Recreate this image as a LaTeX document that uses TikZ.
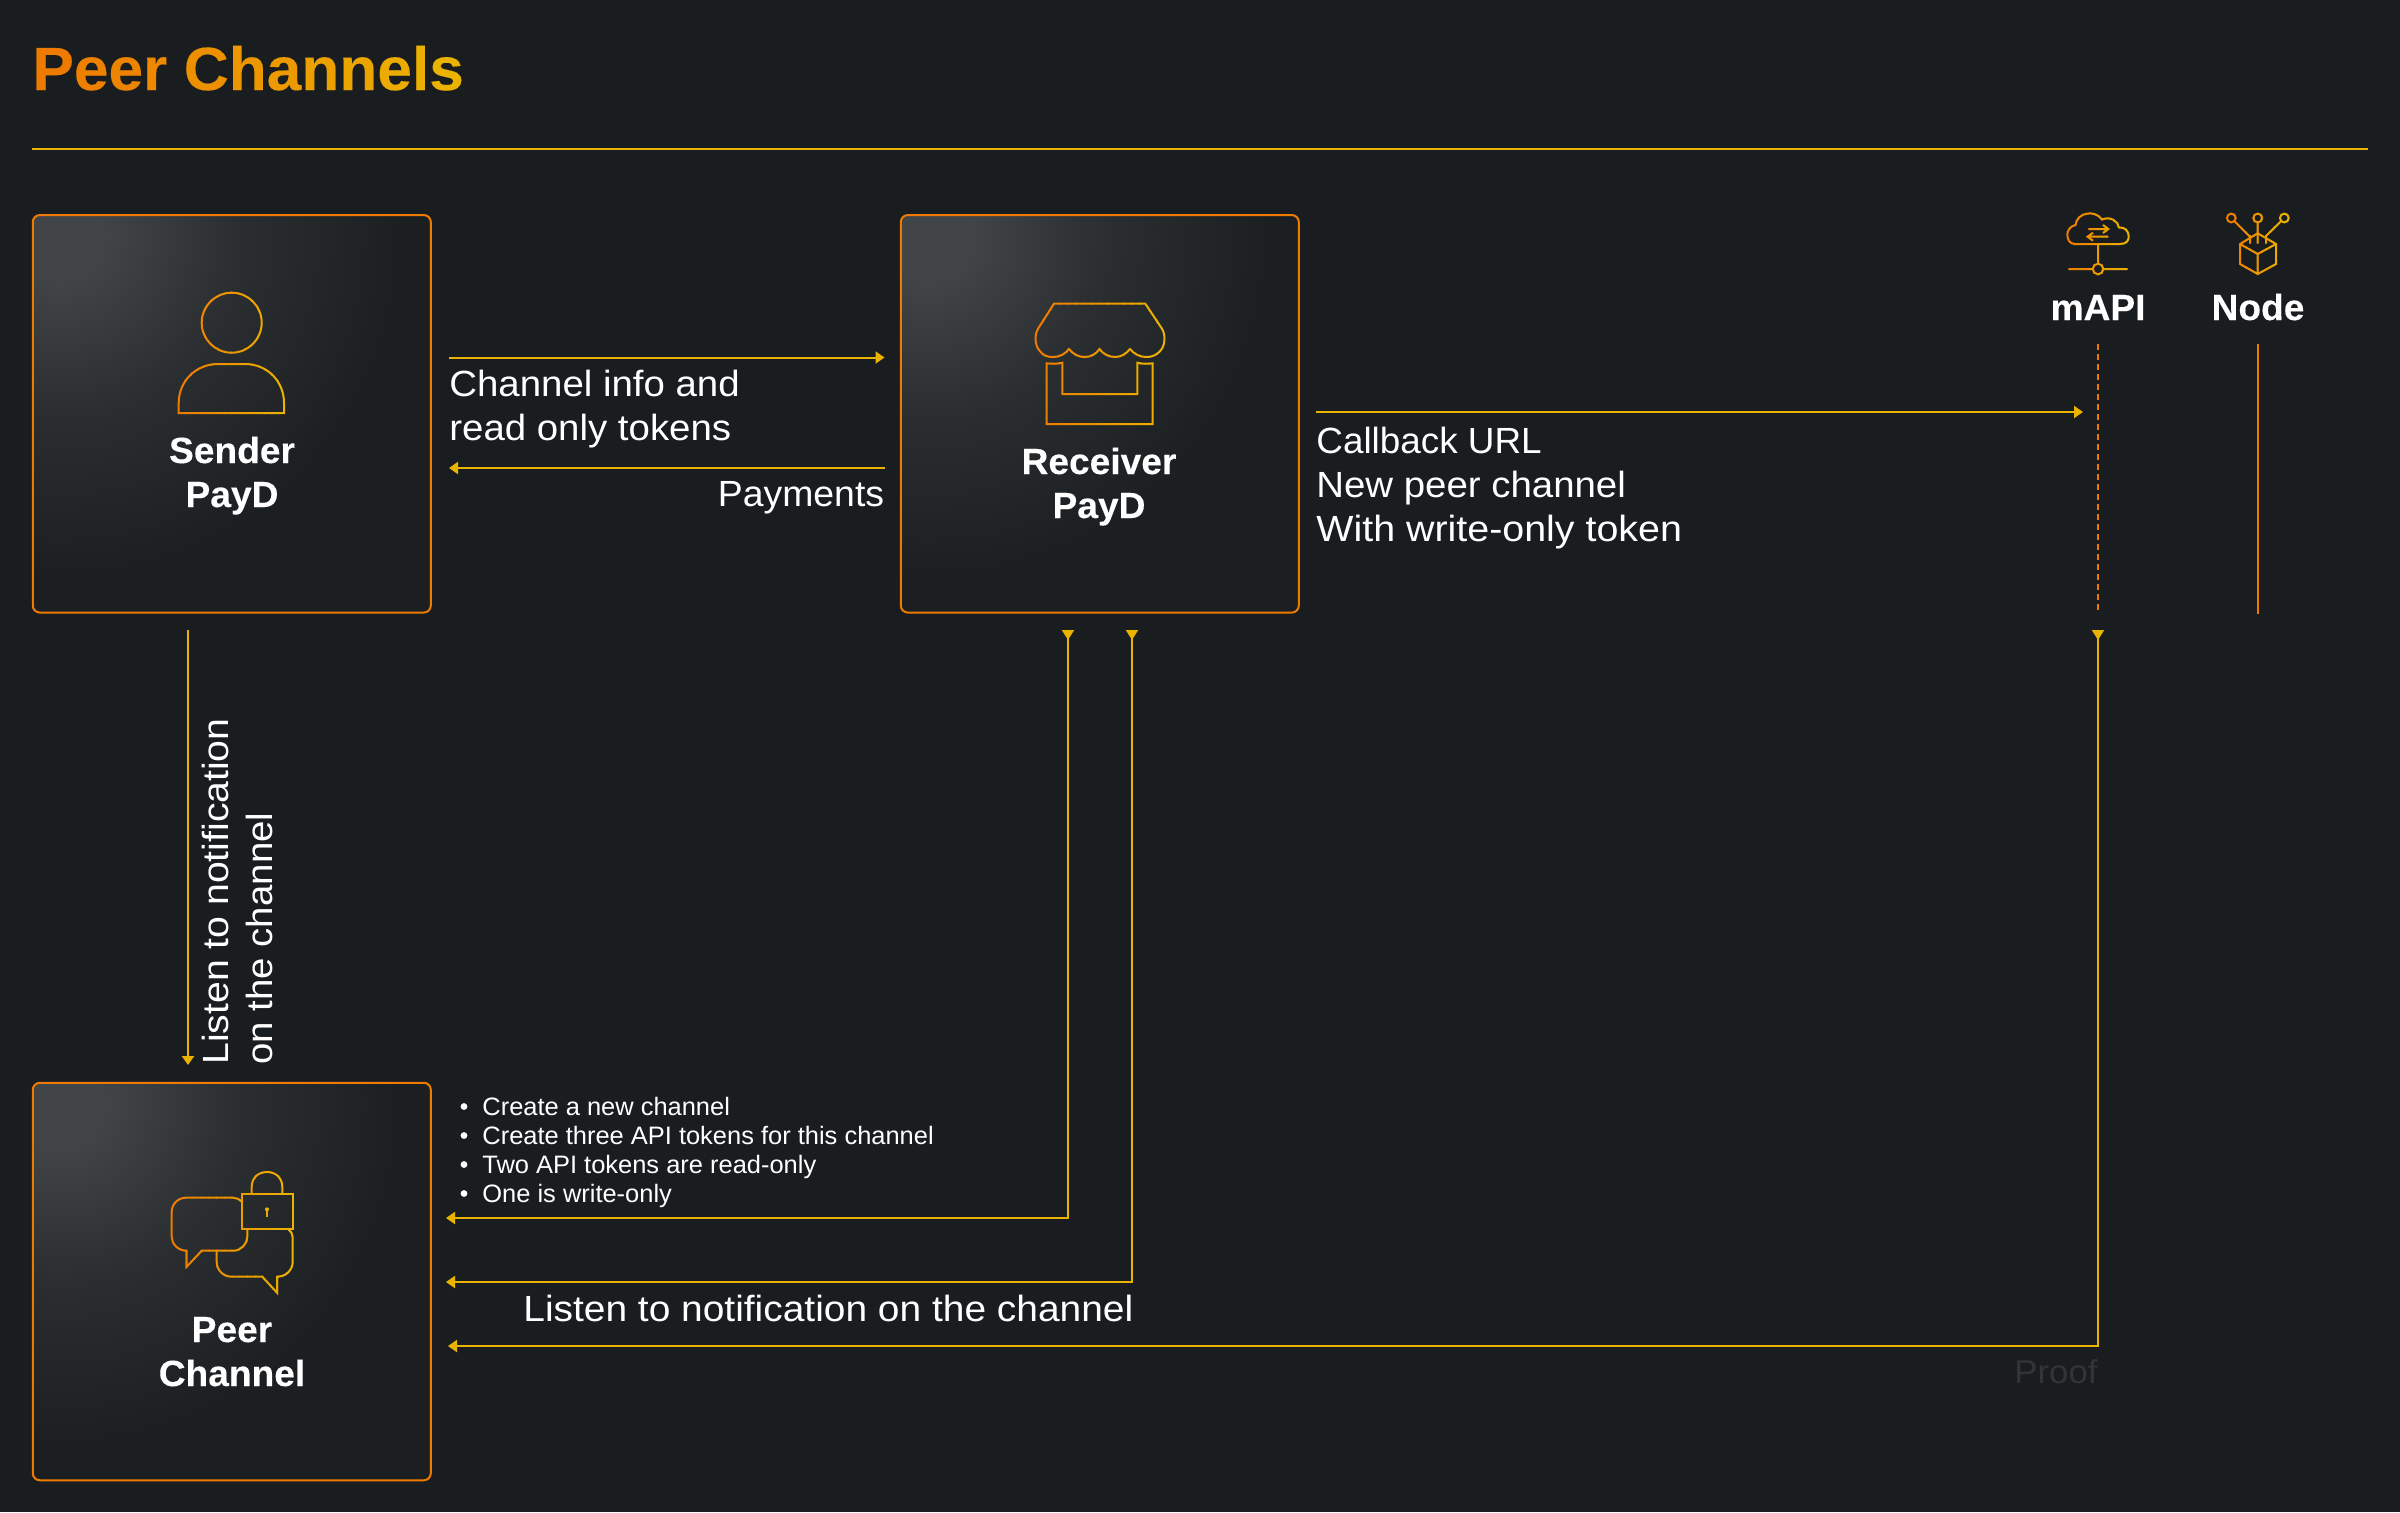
\documentclass[tikz,border=0pt]{standalone}
\usepackage{fontspec}
\usepackage{graphicx}
\usetikzlibrary{arrows.meta}
\setmainfont{Liberation Sans}
\newfontfamily\bodyfont[FakeStretch=1.055]{Liberation Sans}
\newfontfamily\smallfont[FakeStretch=1.01]{Liberation Sans}
\newfontfamily\lblfont[FakeStretch=1.02,FakeBold=0.2]{Liberation Sans}
\definecolor{bgc}{HTML}{1A1D20}
\definecolor{basec}{HTML}{1C1F22}
\definecolor{glowc}{HTML}{414548}
\definecolor{midc}{HTML}{2A2E31}
\definecolor{ora}{HTML}{EE7B00}
\definecolor{yel}{HTML}{EAB300}
\definecolor{proofc}{HTML}{323437}
\pgfdeclareradialshading{boxglow}{\pgfpointorigin}{color(0bp)=(glowc); color(3bp)=(glowc); color(13bp)=(midc); color(25bp)=(basec); color(50bp)=(basec)}
\tikzset{
  boxnode/.style={draw=ora,line width=1pt,rounded corners=3.5pt,minimum width=199pt,minimum height=198.75pt,inner sep=0pt,outer sep=0pt,fill=none},
  boxlabel/.style={font=\lblfont\fontsize{18.2pt}{22pt}\bfseries,text=white,anchor=base,inner sep=0pt},
  bodytext/.style={font=\bodyfont\fontsize{18.2pt}{22pt}\selectfont,text=white,anchor=base west,inner sep=0pt},
  smalltext/.style={font=\smallfont\fontsize{12.6pt}{15pt}\selectfont,text=white,anchor=base west,inner sep=0pt},
  conn/.style={draw=yel,line width=1pt,-{Triangle[length=4.5pt,width=6pt]}},
  revconn/.style={draw=yel,line width=1pt,{Triangle[reversed,length=5pt,width=6pt]}-{Triangle[length=4.5pt,width=6pt]}},
  icon/.style={line width=1pt,line join=miter},
}
% draws a path with a left-to-right orange-yellow gradient
\newcommand{\gradpath}[3]{%
  \foreach \gi in {0,...,15}{%
    \pgfmathsetmacro{\gA}{#1+(#2-#1)*\gi/16-0.4}%
    \pgfmathsetmacro{\gB}{#1+(#2-#1)*(\gi+1)/16+0.4}%
    \pgfmathsetmacro{\gP}{100-\gi*100/15}%
    \begin{scope}
      \clip (\gA,0) rectangle (\gB,1512);
      \draw[icon,color=ora!\gP!yel] #3;
    \end{scope}
  }%
}
\newcommand{\glowbox}[3]{%
  \begin{scope}
    \clip[rounded corners=3.5pt] (#2-199,#3-198.75) rectangle (#2+199,#3+198.75);
    \fill[basec] (#2-199,#3-198.75) rectangle (#2+199,#3+198.75);
    \shade[shading=boxglow] (#2-172,#3-178) circle[radius=172pt];
  \end{scope}
  \node[boxnode] (#1) at (#2,#3) {};
}
\newcommand{\gradtitle}{%
  \textcolor{ora!100!yel}{P}\textcolor{ora!92!yel}{e}\textcolor{ora!84!yel}{e}\textcolor{ora!76!yel}{r}\kern0.27em%
  \textcolor{ora!62!yel}{C}\textcolor{ora!52!yel}{h}\textcolor{ora!44!yel}{a}\textcolor{ora!34!yel}{n}\textcolor{ora!24!yel}{n}\textcolor{ora!14!yel}{e}\textcolor{ora!6!yel}{l}\textcolor{ora!0!yel}{s}}
\begin{document}
\begin{tikzpicture}[x=0.5pt,y=-0.5pt]
\fill[bgc] (0,0) rectangle (2400,1512);
\useasboundingbox (0,0) rectangle (2400,1512);

\node[anchor=base west,inner sep=0pt,font=\lblfont\fontsize{30.5pt}{36pt}\bfseries] (title) at (32,90) {\gradtitle};
\coordinate (ruleL) at (32,149);
\coordinate (ruleR) at (2368,149);
\draw[yel,line width=1pt] (ruleL) -- (ruleR);

% boxes
\glowbox{sender}{231.8}{413.8}
\glowbox{receiver}{1099.8}{413.8}
\glowbox{channel}{231.8}{1281.5}

% box labels
\node[boxlabel] (senderA) at (232,463) {Sender};
\node[boxlabel] (senderB) at (232,507) {PayD};
\node[boxlabel] (receiverA) at (1099,474) {Receiver};
\node[boxlabel] (receiverB) at (1099,518) {PayD};
\node[boxlabel] (channelA) at (232,1342) {Peer};
\node[boxlabel] (channelB) at (232,1386) {Channel};
\node[boxlabel] (mapi) at (2098,320) {mAPI};
\node[boxlabel] (nodelbl) at (2258,320) {Node};

% person icon
\gradpath{178}{285}{(231.7,322.7) circle[radius=15pt]}
\gradpath{178}{285}{(178.7,413) -- (178.7,403) .. controls (178.7,381) and (196,364) .. (218,364) -- (245,364) .. controls (267,364) and (284,381) .. (284,403) -- (284,413) -- cycle}

% store icon
\gradpath{1035}{1165}{(1054,303.7) -- (1145.3,303.7) -- (1161.7,328.3) .. controls (1166,335) and (1165,345) .. (1161,350) .. controls (1156,356) and (1151,357) .. (1146,357) .. controls (1140,357) and (1134,354) .. (1130,349) .. controls (1126,354) and (1121,357) .. (1115,357) .. controls (1109,357) and (1103,354) .. (1099.5,349) .. controls (1096,354) and (1091,357) .. (1084.7,357) .. controls (1078,357) and (1073,354) .. (1069,349) .. controls (1065,354) and (1060,357) .. (1053,357) .. controls (1048,357) and (1043,356) .. (1039,350) .. controls (1035,345) and (1034,335) .. (1038.3,328.3) -- cycle}
\gradpath{1035}{1165}{(1046.7,363.3) .. controls (1052,364) and (1057,364) .. (1062.3,362.7) -- (1062.3,394) -- (1137.3,394) -- (1137.3,362.7) .. controls (1142,364) and (1148,364) .. (1152.7,363.3) -- (1152.7,424) -- (1046.7,424) -- cycle}

% mAPI icon
\gradpath{2066}{2130}{(2073.3,244) -- (2120,244) .. controls (2126,244) and (2129,241) .. (2128.7,236) .. controls (2128.5,231) and (2125,227) .. (2119,227.5) .. controls (2118,221) and (2110,216) .. (2102,219.5) .. controls (2098,214) and (2092,213) .. (2088,213.5) .. controls (2081,214) and (2076,219) .. (2075.5,225) .. controls (2070,226) and (2067,231) .. (2067.3,235) .. controls (2067.5,240) and (2070,244) .. (2075,244)}
\gradpath{2066}{2130}{(2098,244) -- (2098,263.7) (2068.3,269) -- (2092.7,269) (2103.3,269) -- (2127.7,269) (2098,269) circle[radius=2.65pt]}
\gradpath{2066}{2130}{(2088.3,229) -- (2108,229) (2103,225) -- (2108.3,229) -- (2103,233) (2108.3,236.7) -- (2088,236.7) (2093,232.7) -- (2087.5,236.7) -- (2093,240.7)}

% node icon
\gradpath{2226}{2290}{(2231.3,218) circle[radius=2.2pt] (2257.7,218) circle[radius=2.2pt] (2284.3,218) circle[radius=2.2pt]}
\gradpath{2226}{2290}{(2234.5,221.2) -- (2250,236.7) (2257.7,222.4) -- (2257.7,243.5) (2281,221.2) -- (2266,236) (2250,235) -- (2250,243.5) (2266,235) -- (2266,243.5)}
\gradpath{2226}{2290}{(2257.7,233.3) -- (2276,244) -- (2276,264) -- (2257.7,274) -- (2240,264) -- (2240,244) -- cycle (2240,244) -- (2257.7,254) -- (2276,244) (2257.7,254) -- (2257.7,274)}

% chat and lock icon
\gradpath{170}{294}{(241.7,1194) rectangle (292.7,1229.3)}
\gradpath{170}{294}{(251.7,1194) -- (251.7,1187) .. controls (251.7,1178) and (258,1172) .. (267,1172) .. controls (276,1172) and (282.3,1178) .. (282.3,1187) -- (282.3,1194)}
\gradpath{170}{294}{(267,1209.3) -- (267,1216.7)}
\fill[yel] (267,1209.3) circle[radius=1pt];
\gradpath{170}{294}{(241.7,1201.7) .. controls (239,1199) and (236,1197.7) .. (233,1197.7) -- (186,1197.7) .. controls (178,1197.7) and (171.7,1204) .. (171.7,1212) -- (171.7,1236.7) .. controls (171.7,1244) and (178,1250.7) .. (186.7,1250.7) -- (186.7,1266.7) -- (201.7,1250.7) -- (233.3,1250.7) .. controls (241,1250.7) and (247.3,1244) .. (247.3,1236.7) -- (247.3,1229.3)}
\gradpath{170}{294}{(216.7,1250.7) -- (216.7,1261.7) .. controls (216.7,1270) and (223,1276.7) .. (231.7,1276.7) -- (262.3,1276.7) -- (277,1292.7) -- (277,1276.7) .. controls (286,1276.7) and (292.7,1270) .. (292.7,1261.7) -- (292.7,1237.3) .. controls (292.7,1234) and (291,1231) .. (288.3,1229.3)}

% connector end points
\coordinate (s1) at (449,357.5);
\coordinate (r1) at (884.5,357.5);
\coordinate (r2) at (884.5,468);
\coordinate (s2) at (449,468);
\coordinate (r3) at (1316,412);
\coordinate (m1) at (2083,412);
\coordinate (mTop) at (2098,344);
\coordinate (mBot) at (2098,613.5);
\coordinate (nTop) at (2258,344);
\coordinate (nBot) at (2258,613.5);
\coordinate (s3) at (188,630);
\coordinate (c1) at (188,1065);
\coordinate (r4) at (1068,630);
\coordinate (c2) at (446,1218);
\coordinate (r5) at (1132,630);
\coordinate (c3) at (446,1282);
\coordinate (m2) at (2098,630);
\coordinate (c4) at (448,1346);

% connectors
\draw[conn] (s1) -- (r1);
\draw[conn] (r2) -- (s2);
\draw[conn] (r3) -- (m1);
\draw[draw=ora,line width=1pt,dash pattern=on 3pt off 2pt] (mTop) -- (mBot);
\draw[draw=ora,line width=1pt] (nTop) -- (nBot);
\draw[conn] (s3) -- (c1);
\draw[revconn] (r4) |- (c2);
\draw[revconn] (r5) |- (c3);
\draw[revconn] (m2) |- (c4);

% texts
\node[bodytext] (t1) at (449,396) {Channel info and};
\node[bodytext] (t2) at (449,440) {read only tokens};
\node[bodytext,anchor=base east] (t3) at (884.5,506) {\scalebox{0.973}[1]{Payments}};
\node[bodytext] (t4) at (1316,453) {\scalebox{0.96}[1]{Callback URL}};
\node[bodytext] (t5) at (1316,497) {New peer channel};
\node[bodytext] (t6) at (1316,541) {\scalebox{1.026}[1]{With write-only token}};
\node[bodytext,rotate=90,anchor=base west] (t7) at (228,1065) {\scalebox{1.02}[1]{Listen to notification}};
\node[bodytext,rotate=90,anchor=base west] (t8) at (272,1065) {on the channel};
\node[bodytext] (t9) at (523,1321) {\scalebox{1.013}[1]{Listen to notification on the channel}};
\node[bodytext,anchor=base east,text=proofc,font=\bodyfont\fontsize{16.5pt}{20pt}\selectfont] (t10) at (2098,1383) {Proof};

\foreach \by/\bt [count=\bi] in {1115/Create a new channel,1144/Create three API tokens for this channel,1173/Two API tokens are read-only,1202/One is write-only}{
  \node[smalltext] (b\bi) at (482,\by) {\bt};
  \fill[white] (464,\by-8.5) circle[radius=1.7pt];
}
\end{tikzpicture}
\end{document}
